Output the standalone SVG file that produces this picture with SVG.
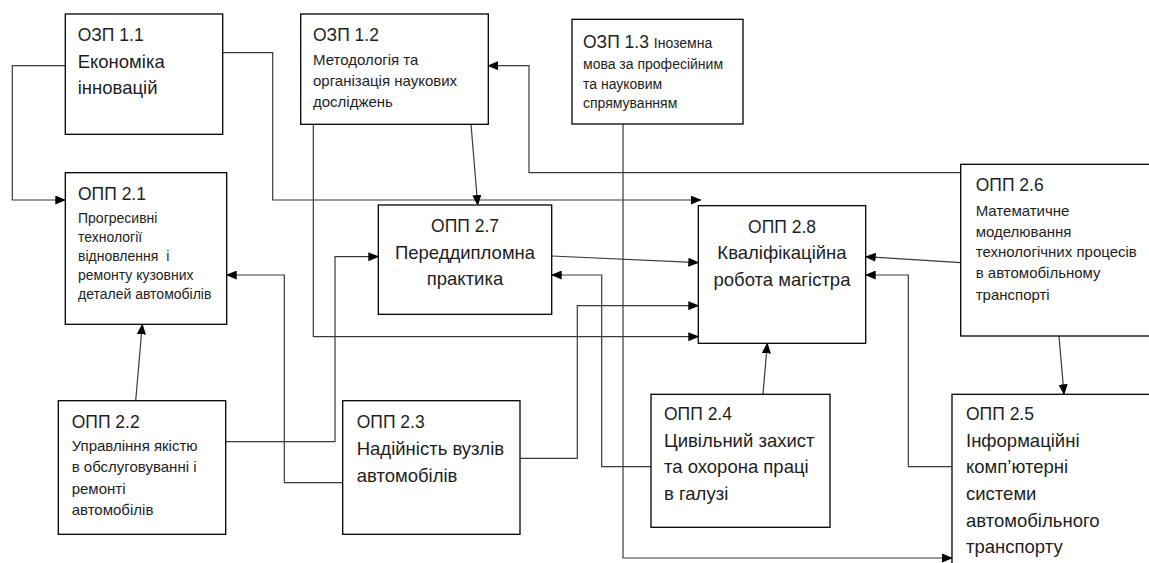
<svg xmlns="http://www.w3.org/2000/svg" width="1149" height="563" viewBox="0 0 1149 563">
<style>
.box{fill:#fff;stroke:#000;stroke-width:1.3}
.c{fill:none;stroke:#3a3a3a;stroke-width:1.2}
text{font-family:"Liberation Sans",Arial,sans-serif;fill:#1e1e1e}
.t{font-size:17.5px}
.b{font-size:18.5px}
.s{font-size:15px}
.s2{font-size:14px}
.m{text-anchor:middle}
</style>
<defs>
<marker id="ah" markerUnits="userSpaceOnUse" markerWidth="11" markerHeight="9" refX="10" refY="4.5" orient="auto" viewBox="0 0 11 9">
<path d="M0,0 L11,4.5 L0,9 z" fill="#000"/>
</marker>
</defs>
<rect width="1149" height="563" fill="#fff"/>

<g id="connectors">
<path class="c" d="M65.5,65.7 H12.3 V200 H65.3" marker-end="url(#ah)"/>
<path class="c" d="M222.7,52.7 H272.7 V200 H700.7" marker-end="url(#ah)"/>
<path class="c" d="M471,124.3 L477.7,205" marker-end="url(#ah)"/>
<path class="c" d="M313.3,124.3 V336.7 H698.3" marker-end="url(#ah)"/>
<path class="c" d="M960.7,172.7 H529 V65.7 H488.3" marker-end="url(#ah)"/>
<path class="c" d="M623,124 V558 H952" marker-end="url(#ah)"/>
<path class="c" d="M960.7,262.7 L865.7,256.7" marker-end="url(#ah)"/>
<path class="c" d="M1059,336 L1064,394.3" marker-end="url(#ah)"/>
<path class="c" d="M952,466.7 H908.3 V275 H865.7" marker-end="url(#ah)"/>
<path class="c" d="M763,394.3 L767.3,343.3" marker-end="url(#ah)"/>
<path class="c" d="M651,466.7 H601.7 V275 H551.7" marker-end="url(#ah)"/>
<path class="c" d="M520,458.3 H577.3 V305.7 H698.3" marker-end="url(#ah)"/>
<path class="c" d="M551.7,256 L698.3,262.7" marker-end="url(#ah)"/>
<path class="c" d="M135.7,400.7 L142.3,324.3" marker-end="url(#ah)"/>
<path class="c" d="M225.7,441.7 H335 V256.7 H378.3" marker-end="url(#ah)"/>
<path class="c" d="M342.7,482.7 H284.3 V275 H226.7" marker-end="url(#ah)"/>
</g>

<g id="ozp11">
<rect class="box" x="65.3" y="14" width="157.4" height="120.3"/>
<text class="t" x="77.7" y="41">ОЗП 1.1</text>
<text class="b" x="77.7" y="68">Економіка</text>
<text class="b" x="77.7" y="94">інновацій</text>
</g>

<g id="ozp12">
<rect class="box" x="300.7" y="14" width="187.6" height="110.3"/>
<text class="t" x="313" y="41">ОЗП 1.2</text>
<text class="s" x="313" y="65">Методологія та</text>
<text class="s" x="313" y="86">організація наукових</text>
<text class="s" x="313" y="106.7">досліджень</text>
</g>

<g id="ozp13">
<rect class="box" x="572" y="19.3" width="171" height="104.7"/>
<text x="583" y="48"><tspan class="t">ОЗП 1.3 </tspan><tspan class="s2">Іноземна</tspan></text>
<text class="s2" x="583" y="68.5">мова за професійним</text>
<text class="s2" x="583" y="88.5">та науковим</text>
<text class="s2" x="583" y="108">спрямуванням</text>
</g>

<g id="opp21">
<rect class="box" x="65.3" y="172.7" width="161.4" height="151.6"/>
<text class="t" x="78" y="200">ОПП 2.1</text>
<text class="s2" x="78" y="223">Прогресивні</text>
<text class="s2" x="78" y="242">технології</text>
<text class="s2" x="78" y="261" xml:space="preserve">відновлення  і</text>
<text class="s2" x="78" y="280">ремонту кузовних</text>
<text class="s2" x="78" y="299">деталей автомобілів</text>
</g>

<g id="opp27">
<rect class="box" x="378.3" y="205" width="173.4" height="109.3"/>
<text class="t m" x="465" y="232">ОПП 2.7</text>
<text class="b m" x="465" y="258.5">Переддипломна</text>
<text class="b m" x="465" y="285">практика</text>
</g>

<g id="opp28">
<rect class="box" x="698.3" y="205.7" width="167.4" height="137.6"/>
<text class="t m" x="782" y="232.7">ОПП 2.8</text>
<text class="b m" x="782" y="259.3">Кваліфікаційна</text>
<text class="b m" x="782" y="286">робота магістра</text>
</g>

<g id="opp26">
<rect class="box" x="960.7" y="164.3" width="200" height="171.7"/>
<text class="t" x="975.7" y="191">ОПП 2.6</text>
<text class="s" x="975.7" y="216">Математичне</text>
<text class="s" x="975.7" y="236.5">моделювання</text>
<text class="s" x="975.7" y="257">технологічних процесів</text>
<text class="s" x="975.7" y="278">в автомобільному</text>
<text class="s" x="975.7" y="300">транспорті</text>
</g>

<g id="opp22">
<rect class="box" x="58.3" y="400.7" width="167.4" height="133.6"/>
<text class="t" x="71.7" y="427.7">ОПП 2.2</text>
<text class="s" x="71.7" y="450.7">Управління якістю</text>
<text class="s" x="71.7" y="472.3">в обслуговуванні і</text>
<text class="s" x="71.7" y="493.5">ремонті</text>
<text class="s" x="71.7" y="515">автомобілів</text>
</g>

<g id="opp23">
<rect class="box" x="342.7" y="400.7" width="177.3" height="133.6"/>
<text class="t" x="356.7" y="427.7">ОПП 2.3</text>
<text class="b" x="356.7" y="455">Надійність вузлів</text>
<text class="b" x="356.7" y="481.5">автомобілів</text>
</g>

<g id="opp24">
<rect class="box" x="651" y="394.3" width="179" height="133"/>
<text class="t" x="664" y="420">ОПП 2.4</text>
<text class="b" x="664" y="447">Цивільний захист</text>
<text class="b" x="664" y="473">та охорона праці</text>
<text class="b" x="664" y="500">в галузі</text>
</g>

<g id="opp25">
<rect class="box" x="952" y="394.3" width="210" height="200"/>
<text class="t" x="966" y="420">ОПП 2.5</text>
<text class="b" x="966" y="447">Інформаційні</text>
<text class="b" x="966" y="473">комп’ютерні</text>
<text class="b" x="966" y="500">системи</text>
<text class="b" x="966" y="527">автомобільного</text>
<text class="b" x="966" y="553">транспорту</text>
</g>
</svg>
